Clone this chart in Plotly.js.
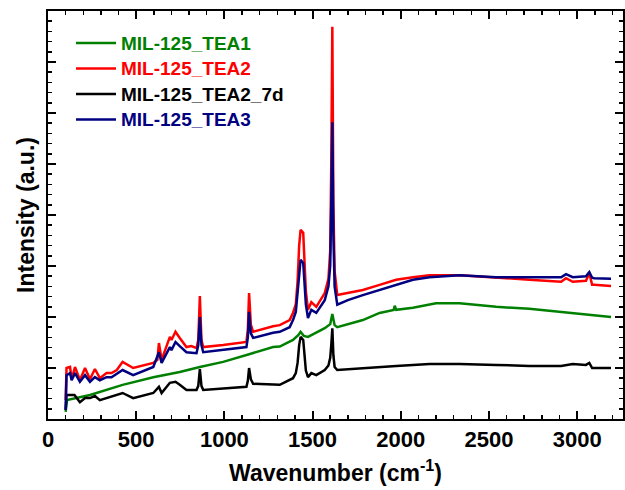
<!DOCTYPE html>
<html>
<head>
<meta charset="utf-8">
<script src="https://cdn.plot.ly/plotly-3.0.1.min.js"></script>
<style>html,body{margin:0;padding:0;background:#fff;}#chart{width:625px;height:490px;}</style>
</head>
<body>
<div id="chart"></div>
<script>
// Raman spectra, wavenumber (cm-1) vs intensity (a.u.)
const tea1X = [100,108,238,423,597,747,861,993,1140,1276,1314,1389,1420,1432,1450,1474,1569,1600,1612,1625,1640,1785,1880,1960,1966,1974,2069,2200,2333,2541,2729,2909,3192];
const tea1Y = [0.14,0.37,0.47,0.67,0.82,0.92,1.02,1.12,1.27,1.41,1.42,1.55,1.65,1.71,1.63,1.61,1.78,1.86,2.06,1.84,1.80,1.94,2.08,2.14,2.22,2.14,2.18,2.27,2.27,2.20,2.16,2.10,2.00];

const tea2X = [100,105,125,134,153,181,210,238,266,294,332,360,390,423,483,597,620,629,644,691,700,723,747,785,813,842,852,861,870,880,993,1125,1133,1140,1150,1163,1276,1314,1370,1389,1405,1415,1424,1432,1447,1454,1462,1474,1493,1521,1569,1590,1600,1606,1612,1618,1625,1640,1700,1785,1880,1974,2069,2163,2333,2541,2729,2909,2937,2975,3050,3069,3085,3097,3192];
const tea2Y = [0.37,1.00,1.02,0.78,1.02,0.76,1.00,0.78,0.98,0.80,0.90,0.90,0.96,1.12,1.00,1.10,1.16,1.49,1.16,1.61,1.55,1.71,1.59,1.41,1.43,1.39,1.55,2.41,1.55,1.41,1.45,1.51,1.75,2.47,1.85,1.71,1.82,1.84,1.94,2.08,2.25,2.70,3.40,3.71,3.65,3.20,2.50,2.14,2.29,2.20,2.47,2.75,3.30,5.00,7.69,4.20,2.90,2.43,2.47,2.53,2.63,2.73,2.78,2.82,2.82,2.78,2.73,2.69,2.76,2.69,2.71,2.86,2.63,2.63,2.61];

const tea2dX = [100,105,125,150,181,210,238,266,294,332,423,483,597,629,644,691,723,747,785,842,852,861,870,880,1125,1133,1140,1150,1163,1314,1370,1389,1405,1415,1424,1432,1447,1454,1462,1474,1493,1521,1569,1590,1600,1606,1612,1618,1625,1640,1785,1974,2163,2333,2541,2729,2909,2975,3050,3069,3085,3097,3192];
const tea2dY = [0.18,0.47,0.47,0.47,0.33,0.41,0.41,0.45,0.37,0.41,0.51,0.41,0.51,0.63,0.51,0.71,0.73,0.67,0.57,0.57,0.65,0.98,0.65,0.57,0.63,0.75,1.00,0.78,0.69,0.67,0.76,0.80,0.90,1.10,1.45,1.61,1.55,1.30,0.95,0.82,0.90,0.86,0.96,1.05,1.20,1.45,1.78,1.25,1.02,0.96,1.00,1.04,1.08,1.08,1.06,1.04,1.04,1.08,1.06,1.10,1.00,1.00,1.00];

const tea3X = [100,105,125,134,153,181,210,238,266,294,332,360,423,483,597,629,644,691,700,723,747,785,842,852,861,870,880,993,1125,1133,1140,1150,1163,1276,1314,1370,1389,1405,1415,1424,1432,1447,1454,1462,1474,1493,1521,1569,1590,1600,1606,1612,1618,1625,1640,1700,1785,1880,1974,2069,2163,2333,2541,2729,2909,2937,2975,3050,3069,3085,3097,3192];
const tea3Y = [0.18,0.86,0.90,0.76,0.90,0.73,0.86,0.73,0.82,0.76,0.82,0.82,0.96,0.86,1.02,1.31,1.10,1.41,1.35,1.51,1.43,1.31,1.29,1.45,2.00,1.45,1.31,1.35,1.41,1.60,2.10,1.68,1.59,1.69,1.71,1.80,1.94,2.10,2.45,2.90,3.12,3.06,2.70,2.25,1.98,2.14,2.08,2.33,2.60,3.00,4.20,5.82,3.60,2.60,2.24,2.33,2.43,2.53,2.63,2.73,2.78,2.82,2.78,2.78,2.78,2.84,2.78,2.80,2.88,2.77,2.76,2.75];

const names = ['MIL-125_TEA1','MIL-125_TEA2','MIL-125_TEA2_7d','MIL-125_TEA3'];
const colors = ['#008000','#ff0000','#000000','#000080'];
const xs = [tea1X, tea2X, tea2dX, tea3X];
const ys = [tea1Y, tea2Y, tea2dY, tea3Y];
const tickVals = [0,500,1000,1500,2000,2500,3000];

const traces = names.map((n,i)=>({
  x: xs[i], y: ys[i], type:'scatter', mode:'lines',
  name: '<span style="color:'+colors[i]+';font-size:19px">'+n+'</span>',
  line:{color:colors[i], width:2.5}
}));

const axisCommon = {
  showline:true, linecolor:'#000', linewidth:2, mirror:'allticks',
  ticks:'inside', ticklen:8, tickwidth:2, tickcolor:'#000',
  showgrid:false, zeroline:false
};

const layout = {
  width:625, height:490,
  margin:{l:48, r:2, t:11, b:71},
  paper_bgcolor:'#fff', plot_bgcolor:'#fff',
  font:{family:'Liberation Sans, Arial, sans-serif', color:'#000'},
  showlegend:true,
  legend:{x:0.04, y:0.965, xanchor:'left', yanchor:'top', bgcolor:'rgba(0,0,0,0)',
    font:{size:17.3, weight:'bold', family:'Liberation Sans, Arial, sans-serif'}, tracegroupgap:0, itemwidth:40},
  xaxis: Object.assign({}, axisCommon, {
    range:[0,3260], tickvals:tickVals, ticktext:tickVals.map(String),
    minor:{dtick:100, tick0:0, ticks:'inside', ticklen:4, tickwidth:1.5, tickcolor:'#000', showgrid:false},
    tickfont:{size:22, weight:'bold'},
    title:{text:'<b>Wavenumber (cm<sup>-1</sup>)</b>', font:{size:23, weight:'bold'}, standoff:13}
  }),
  yaxis: Object.assign({}, axisCommon, {
    range:[0,8], dtick:1, tick0:0, showticklabels:false,
    minor:{dtick:0.2, ticks:'inside', ticklen:4, tickwidth:1.5, tickcolor:'#000', showgrid:false},
    title:{text:'<b>Intensity (a.u.)</b>', font:{size:23, weight:'bold'}, standoff:5}
  })
};

Plotly.newPlot('chart', traces, layout, {displayModeBar:false, staticPlot:true});
</script>
</body>
</html>
